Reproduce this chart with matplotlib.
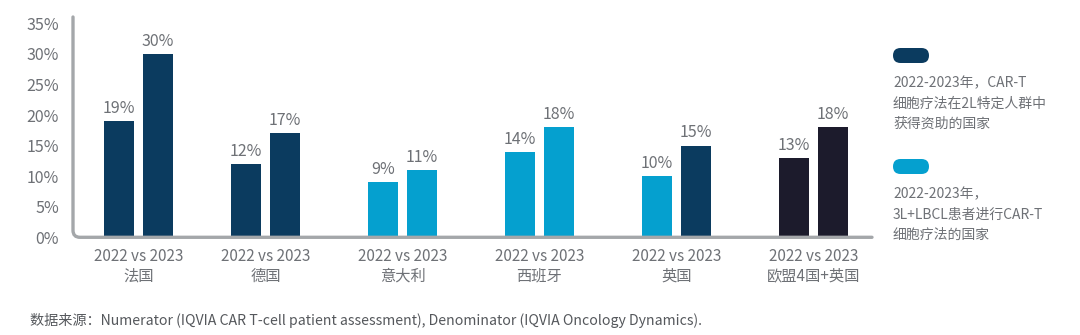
import matplotlib
matplotlib.use("Agg")
import matplotlib.pyplot as plt
from matplotlib.path import Path
from matplotlib.patches import PathPatch, FancyBboxPatch
from matplotlib.transforms import Affine2D

plt.rcParams['font.family'] = ['Noto Sans CJK SC', 'DejaVu Sans']

countries = ["法国", "德国", "意大利", "西班牙", "英国", "欧盟4国+英国"]
pair_label = "2022 vs 2023"
values_2022 = [19, 12, 9, 14, 10, 13]
values_2023 = [30, 17, 11, 18, 15, 18]
# funding type per bar: "2L" dark, "3L" light, "EU" aggregate
kind_2022 = ["2L", "2L", "3L", "3L", "3L", "EU"]
kind_2023 = ["2L", "2L", "3L", "3L", "2L", "EU"]
yticks = [0, 5, 10, 15, 20, 25, 30, 35]
legend_texts = ["2022-2023年，CAR-T\n细胞疗法在2L特定人群中\n获得资助的国家",
                "2022-2023年，\n3L+LBCL患者进行CAR-T\n细胞疗法的国家"]
source = "数据来源：Numerator (IQVIA CAR T-cell patient assessment), Denominator (IQVIA Oncology Dynamics)."

colors = {"2L": "#0b3b5f", "3L": "#05a0cf", "EU": "#1c1b2c"}
gray_txt = "#6e7176"
axis_gray = "#a4a7aa"

W, H = 1080, 335
fig = plt.figure(figsize=(W / 100, H / 100), dpi=100)
px = Affine2D().scale(1 / W, 1 / H) + fig.transFigure

ax_l, ax_r, ax_b, ax_t = 73, 872, 335 - 237.3, 335 - 23.3
ax = fig.add_axes([ax_l / W, ax_b / H, (ax_r - ax_l) / W, (ax_t - ax_b) / H])
ax.set_xlim(-0.405, 5.427)
ax.set_ylim(0, 35)
for s in ax.spines.values():
    s.set_visible(False)

# group centres (first group sits a little closer to the second one)
xs = [0.073, 1, 2, 3, 4, 5]
bw = 0.219
off = 0.142
for i, c in enumerate(xs):
    for x, v, k in ((c - off, values_2022[i], kind_2022[i]), (c + off, values_2023[i], kind_2023[i])):
        ax.bar(x, v, width=bw, color=colors[k], zorder=2)
        ax.annotate(f"{v}%", (x, v), xytext=(0, 3), textcoords="offset points",
                    ha="center", va="bottom", fontsize=11.5, color=gray_txt)

ax.set_yticks(yticks)
ax.set_yticklabels([f"{t}%" for t in yticks], fontsize=11.5, color=gray_txt)
ax.tick_params(axis="y", length=0, pad=10)
ax.set_xticks(xs)
ax.set_xticklabels([f"{pair_label}\n{c}" for c in countries], fontsize=11,
                   color=gray_txt, linespacing=1.15)
ax.tick_params(axis="x", length=0, pad=8)

# axis line with rounded corner (pixel coords, y up)
r = 7
verts = [(73, 335 - 17), (73, 335 - 237.3 + r), (73, 335 - 237.3), (73 + r, 335 - 237.3), (872, 335 - 237.3)]
codes = [Path.MOVETO, Path.LINETO, Path.CURVE3, Path.CURVE3, Path.LINETO]
fig.add_artist(PathPatch(Path(verts, codes), fill=False, edgecolor=axis_gray, lw=2.4,
                         transform=px, capstyle="round"))

# legend
for (ytop, k, txt) in ((48, "2L", legend_texts[0]), (159, "3L", legend_texts[1])):
    fig.add_artist(FancyBboxPatch((893 + 7.5, 335 - ytop - 15 + 7.5), 36 - 15, 0,
                                  boxstyle="round,pad=7.5", fc=colors[k], ec="none",
                                  transform=px))
    fig.text(893 / W, (335 - ytop - 28) / H, txt, ha="left", va="top",
             fontsize=10, color=gray_txt, linespacing=1.58)

fig.text(30 / W, (335 - 320) / H, source, ha="left", va="center", fontsize=10.2, color="#55585c")

fig.savefig("out.png", dpi=100)
